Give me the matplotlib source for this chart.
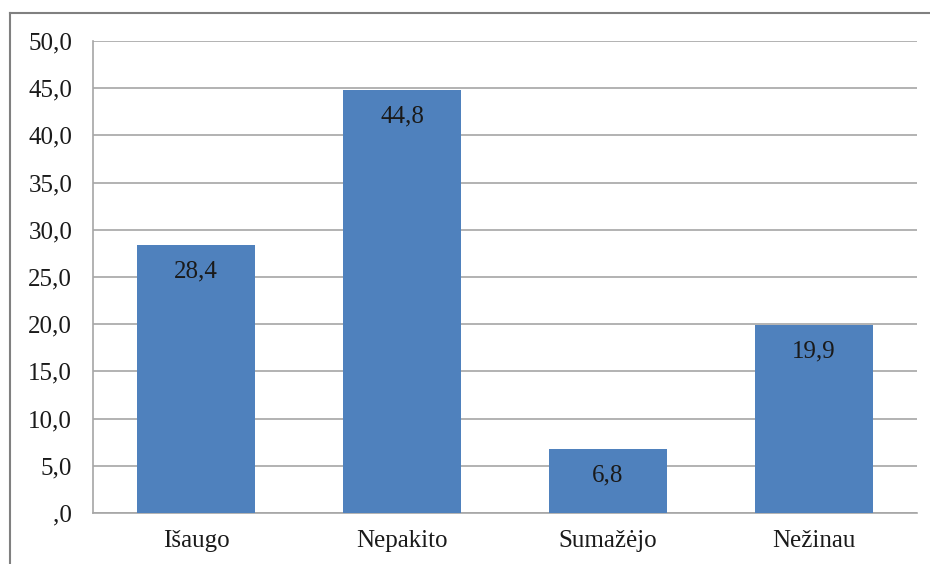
import matplotlib
matplotlib.use("Agg")
import matplotlib.pyplot as plt
from matplotlib.lines import Line2D

categories = ["Išaugo", "Nepakito", "Sumažėjo", "Nežinau"]
values = [28.4, 44.8, 6.8, 19.9]
yticks = [0, 5, 10, 15, 20, 25, 30, 35, 40, 45, 50]

def fmt(v):
    s = f"{v:.1f}".replace(".", ",")
    if s.startswith("0,"):
        s = s[1:]
    return s

plt.rcParams['font.family'] = ['Liberation Serif', 'DejaVu Serif']

W, H = 930, 564
fig = plt.figure(figsize=(W/100, H/100), dpi=100)
ax = fig.add_axes([93/W, 1-513/H, (917-93)/W, (513-41)/H])

x = range(len(categories))
bars = ax.bar(x, values, width=0.57, color="#4F81BD", zorder=3)
ax.set_xlim(-0.5, len(categories)-0.5)
ax.set_ylim(0, 50)
ax.set_yticks(yticks)
ax.set_yticklabels([fmt(v) for v in yticks], fontsize=18)
ax.set_xticks(list(x))
ax.set_xticklabels(categories, fontsize=18)
ax.tick_params(axis='both', length=0, colors='#1a1a1a')
ax.tick_params(axis='y', pad=15)
ax.tick_params(axis='x', pad=12)
ax.grid(axis='y', color='#a6a6a6', linewidth=1.2, zorder=0)
for side in ['top', 'right']:
    ax.spines[side].set_visible(False)
for side in ['left', 'bottom']:
    ax.spines[side].set_color('#a6a6a6')
    ax.spines[side].set_linewidth(1.2)

for b, v in zip(bars, values):
    ax.annotate(fmt(v), (b.get_x() + b.get_width()/2, v), xytext=(0, -11),
                textcoords='offset points', ha='center', va='top', fontsize=18,
                color='#1a1a1a', zorder=4)

# outer frame (top and left visible, extends past image edges)
fig.add_artist(Line2D([10/W, 1], [1-13/H, 1-13/H], color='#808080', linewidth=1.5, transform=fig.transFigure))
fig.add_artist(Line2D([10/W, 10/W], [0, 1-13/H], color='#808080', linewidth=1.5, transform=fig.transFigure))

fig.savefig("out.png", dpi=100)
